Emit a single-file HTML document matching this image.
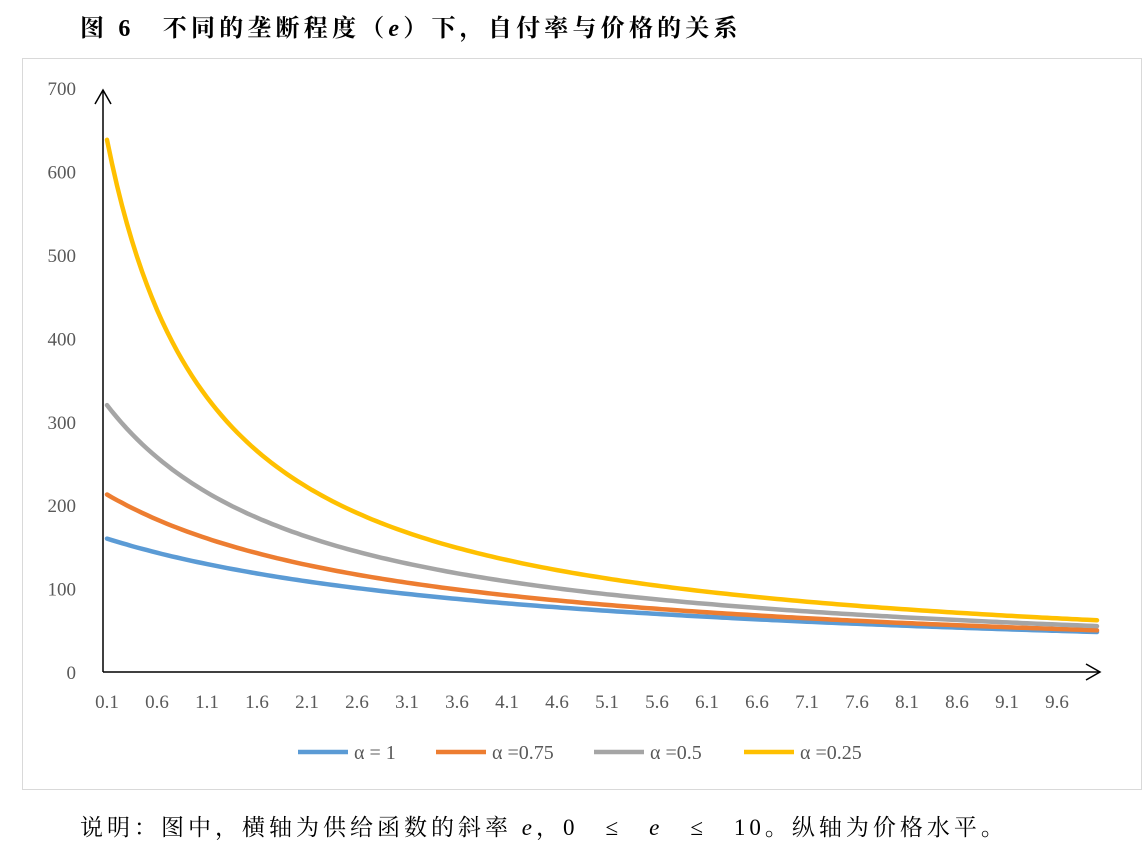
<!DOCTYPE html>
<html><head><meta charset="utf-8"><style>
html,body{margin:0;padding:0;background:#fff;width:1148px;height:861px;overflow:hidden}
svg{display:block}
</style></head><body>
<svg id="s" width="1148" height="861" xmlns="http://www.w3.org/2000/svg" font-family="Liberation Serif, Noto Serif CJK SC, serif">
<text x="80" y="36" font-size="24" font-weight="bold" letter-spacing="4.2" font-family="Liberation Serif, Noto Serif CJK SC, serif">图 6　不同的垄断程度（<tspan font-style="italic">e</tspan>）下，自付率与价格的关系</text>
<rect x="22.5" y="58.5" width="1119" height="731" fill="none" stroke="#d9d9d9" stroke-width="1"/>
<g id="yt" font-size="19" fill="#595959" text-anchor="end"></g>
<g id="xt" font-size="19" fill="#595959" text-anchor="middle"></g>
<line x1="103" y1="672" x2="103" y2="90" stroke="#000" stroke-width="1.5"/>
<polyline points="95,104 103,90 111,104" fill="none" stroke="#000" stroke-width="1.5"/>
<line x1="103" y1="672" x2="1100" y2="672" stroke="#000" stroke-width="1.5"/>
<polyline points="1086,664 1100,672 1086,680" fill="none" stroke="#000" stroke-width="1.5"/>
<g id="curves" fill="none" stroke-width="4.5" stroke-linecap="round"></g>
<g font-size="20" fill="#595959">
<line x1="298" y1="752" x2="348" y2="752" stroke="#5b9bd5" stroke-width="4.5"/><text x="354" y="759">α = 1</text>
<line x1="436" y1="752" x2="486" y2="752" stroke="#ed7d31" stroke-width="4.5"/><text x="492" y="759">α =0.75</text>
<line x1="594" y1="752" x2="644" y2="752" stroke="#a5a5a5" stroke-width="4.5"/><text x="650" y="759">α =0.5</text>
<line x1="744" y1="752" x2="794" y2="752" stroke="#ffc000" stroke-width="4.5"/><text x="800" y="759">α =0.25</text>
</g>
<text x="80" y="835" font-size="23" letter-spacing="4" font-family="Liberation Serif, Noto Serif CJK SC, serif">说明：图中，横轴为供给函数的斜率 <tspan font-style="italic">e</tspan>，0　≤　<tspan font-style="italic">e</tspan>　≤　10。纵轴为价格水平。</text>
</svg>
<script>
var ns="http://www.w3.org/2000/svg";
function el(t,a,p,txt){var e=document.createElementNS(ns,t);for(var k in a)e.setAttribute(k,a[k]);if(txt!=null)e.textContent=txt;p.appendChild(e);return e;}
var yt=document.getElementById('yt'),xt=document.getElementById('xt'),cg=document.getElementById('curves');
for(var i=0;i<=7;i++){el('text',{x:76,y:672-i*83.4+7},yt,String(i*100));}
for(var i=0;i<20;i++){var v=(0.1+i*0.5).toFixed(1);el('text',{x:107+i*50,y:708},xt,v);}
var cs=[["#5b9bd5",678,4.14],["#ed7d31",647,2.94],["#a5a5a5",657.6,1.955],["#ffc000",680,0.9656]];
cs.forEach(function(c){var d="";for(var e=0.1;e<=10.0001;e+=0.05){var x=107+(e-0.1)*100,y=672-c[1]/(e+c[2])*0.834;d+=(d?"L":"M")+x.toFixed(1)+","+y.toFixed(1);}el('path',{d:d,stroke:c[0]},cg);});
</script>
</body></html>
